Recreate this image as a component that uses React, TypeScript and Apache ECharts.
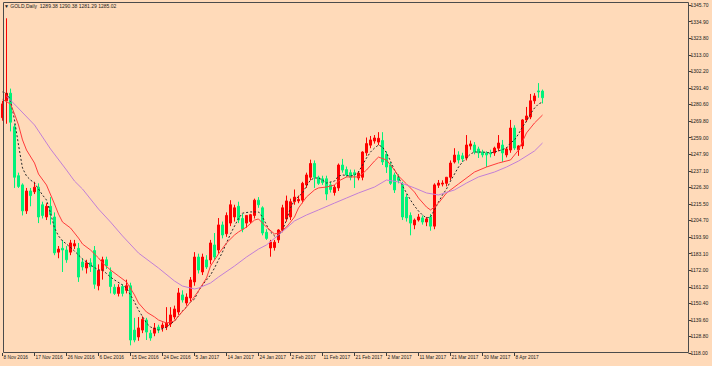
import React, { useEffect, useRef } from "react";
import * as echarts from "echarts";

// ---- categories (trading days, Mon-Sat server calendar) ----
const MONTH_DAYS: [string, number[]][] = [
  ["Nov 2016", [8, 9, 10, 11, 12, 14, 15, 16, 17, 18, 19, 21, 22, 23, 24, 25, 26, 28, 29, 30]],
  ["Dec 2016", [1, 2, 3, 5, 6, 7, 8, 9, 10, 12, 13, 14, 15, 16, 17, 19, 20, 21, 22, 23, 24, 27, 28, 29, 30, 31]],
  ["Jan 2017", [3, 4, 5, 6, 7, 9, 10, 11, 12, 13, 14, 16, 17, 18, 19, 20, 21, 23, 24, 25, 26, 27, 28, 30, 31]],
  ["Feb 2017", [1, 2, 3, 4, 6, 7, 8, 9, 10, 11, 13, 14, 15, 16, 17, 18, 20, 21, 22, 23, 24, 25, 27, 28]],
  ["Mar 2017", [1, 2, 3, 4, 6, 7, 8, 9, 10, 11, 13, 14, 15, 16, 17, 18, 20, 21, 22, 23, 24, 25, 27, 28, 29, 30, 31]],
  ["Apr 2017", [1, 3, 4, 5, 6, 7, 8, 10, 11, 12, 13, 14, 15, 17]],
];
const DATES: string[] = MONTH_DAYS.flatMap(([m, days]) => days.map((d) => `${d} ${m}`));
const SLOTS = 172; // visible bar slots (chart shift to the right)
const CATEGORIES: string[] = [...DATES, ...new Array(SLOTS - DATES.length).fill("")];

// ---- candles [open, high, low, close] ----
const CANDLES: number[][] = [
  [1272, 1283, 1270, 1281], [1283, 1337, 1268, 1288], [1288, 1291, 1263, 1269], [1266, 1268, 1226, 1233],
  [1234, 1236, 1226, 1227], [1228, 1229, 1208, 1211], [1211, 1226, 1209, 1224], [1224, 1226, 1214, 1221],
  [1223.5, 1230, 1222, 1226.5], [1226.5, 1229, 1203, 1207], [1215, 1217, 1206, 1208], [1207, 1216, 1205, 1214],
  [1214, 1220, 1202, 1208.5], [1207, 1210, 1182, 1183.5], [1184, 1188, 1180, 1186], [1186.5, 1192, 1171, 1185.4],
  [1185.4, 1188, 1177, 1179], [1184, 1192, 1182, 1190], [1188, 1192, 1186, 1189.5], [1186.5, 1190, 1164.5, 1167.7],
  [1177.5, 1180, 1172, 1174.3], [1173.6, 1179, 1170, 1177], [1177, 1180, 1171, 1174.5], [1185, 1188, 1160, 1163],
  [1162, 1176, 1159, 1172], [1172, 1181, 1166, 1179], [1179, 1181, 1173, 1175], [1171, 1174, 1157, 1161.5],
  [1161, 1163, 1156, 1157], [1157, 1163, 1155, 1161], [1161.5, 1163, 1155, 1157], [1159, 1166, 1157, 1162],
  [1162, 1164, 1123, 1126.5], [1133, 1141, 1125, 1126.5], [1128.5, 1141.5, 1126, 1134.4], [1133, 1142, 1131, 1140],
  [1139.6, 1141, 1126.5, 1131.7], [1131, 1133, 1126, 1127.8], [1131, 1137.6, 1129, 1134.4], [1135, 1136.5, 1131, 1133],
  [1134.4, 1138, 1132, 1136.3], [1135, 1148, 1133, 1137.6], [1137, 1148, 1135, 1142.9], [1141.6, 1149, 1140, 1146.8],
  [1144.8, 1160.5, 1143, 1157.3], [1156, 1159, 1151, 1152.7], [1150.7, 1157, 1149, 1154.6], [1154, 1167.7, 1152, 1165.8],
  [1164.5, 1184, 1162, 1180.8], [1180.8, 1183, 1170, 1172.3], [1171, 1183, 1169, 1180.8], [1178.9, 1182, 1173, 1174.3],
  [1178.9, 1192, 1176, 1190], [1188.7, 1196.5, 1179, 1180.8], [1185.4, 1206.3, 1183, 1201.8], [1201.8, 1204, 1193, 1195.2],
  [1196, 1210, 1194, 1208], [1203, 1218, 1201, 1215], [1207, 1215, 1204, 1213], [1214, 1217, 1203, 1205],
  [1206, 1209, 1197, 1199], [1203, 1208, 1200, 1208], [1204, 1209, 1203, 1208.5], [1208, 1219, 1206, 1218],
  [1218, 1220, 1213, 1215], [1213, 1214, 1195, 1196.5], [1197, 1199, 1192, 1193], [1186.7, 1192, 1181, 1190.6],
  [1187, 1192, 1185, 1190.5], [1192, 1199, 1190, 1198.5], [1198.5, 1215, 1197, 1213], [1205.7, 1221, 1204, 1217.5],
  [1207, 1219, 1205, 1217], [1217, 1225, 1215, 1220], [1217.5, 1221, 1216, 1218.5], [1218, 1230, 1216, 1229],
  [1228, 1236, 1226, 1234.5], [1233, 1244.5, 1231, 1242], [1242, 1244, 1226, 1233], [1233, 1234, 1228, 1229],
  [1232, 1234, 1228, 1229.5], [1232, 1234, 1218, 1222], [1228, 1230, 1223, 1225], [1223, 1228, 1221, 1226.5],
  [1226, 1242, 1224, 1241], [1241, 1245, 1236, 1237.7], [1238, 1240, 1233, 1234.5], [1236, 1238, 1231, 1233],
  [1236, 1238, 1226, 1234.5], [1232.5, 1237, 1231, 1235.7], [1233, 1250, 1231, 1249.5], [1249, 1259, 1247, 1255],
  [1254, 1260, 1252, 1257.4], [1256.7, 1260.6, 1255, 1258.7], [1256, 1262.5, 1254, 1258.5], [1257, 1262.5, 1241, 1243],
  [1248, 1250, 1235.8, 1239.7], [1241, 1243, 1228, 1229], [1234.5, 1236, 1222.7, 1224.7], [1233, 1235, 1229, 1231],
  [1228, 1230, 1205, 1207], [1220, 1222, 1204, 1206.4], [1208, 1210, 1195, 1203], [1201.8, 1206, 1199, 1205],
  [1205, 1209, 1204, 1207], [1206.4, 1208, 1202, 1203.7], [1203.7, 1207, 1201, 1205.7], [1207, 1209, 1198, 1201],
  [1201, 1229, 1199, 1228], [1227.8, 1231.2, 1226, 1229.2], [1228.5, 1231, 1227, 1229.2], [1229, 1233, 1227, 1233],
  [1233, 1244, 1231, 1242.3], [1243, 1252, 1242, 1247.5], [1247.6, 1250, 1242, 1244.3], [1247, 1249, 1243, 1245],
  [1245.6, 1260.6, 1244, 1254.1], [1253.4, 1257, 1251, 1254.8], [1254.1, 1256, 1248, 1249.5], [1251.5, 1253, 1245.6, 1248.9],
  [1249.5, 1251, 1246, 1247.6], [1248.9, 1250, 1239.7, 1247.6], [1248.9, 1251, 1246, 1248.2], [1248.9, 1253, 1247, 1252.1],
  [1252, 1260.6, 1250, 1255.4], [1254.1, 1257.4, 1243, 1248.9], [1247.6, 1252.8, 1246, 1251.5], [1250.8, 1270.5, 1249, 1265.2],
  [1265.2, 1267, 1250.8, 1252.1], [1251, 1254, 1247, 1253.5], [1253.5, 1271, 1251.5, 1270.5], [1270.5, 1279, 1269, 1273.1],
  [1272.4, 1287.5, 1271, 1283], [1283, 1288, 1281, 1286.2], [1289.5, 1294.6, 1285, 1288.8], [1289.38, 1290.38, 1281.29, 1285.02],
];

// ---- moving averages: [bar index, price] ----
const MA_FAST: number[][] = [
  [0, 1288.8], [1, 1288.1], [2, 1283.5], [3, 1270.5], [4, 1254.1], [5, 1239.0], [6, 1233.8], [7, 1231.2], [8, 1229.2],
  [10, 1221.4], [11, 1218.1], [12, 1209.6], [13, 1199.8], [14, 1194.6], [15, 1191.3], [16, 1189.3], [18, 1184.7],
  [19, 1182.1], [20, 1179.5], [22, 1175.6], [24, 1172.3], [25, 1172.3], [27, 1167.7], [28, 1165.8], [30, 1162.5],
  [31, 1160.5], [33, 1151.4], [34, 1146.1], [36, 1137.6], [37, 1135.0], [39, 1133.0], [41, 1135.0], [42, 1137.0],
  [43, 1138.9], [44, 1142.2], [45, 1145.5], [46, 1148.1], [47, 1151.4], [48, 1153.3], [49, 1158.6], [50, 1162.5],
  [51, 1165.8], [52, 1169.0], [53, 1173.6], [54, 1178.9], [55, 1184.1], [56, 1190.0], [57, 1195.9], [58, 1201.0],
  [59, 1206.0], [60, 1209.5], [62, 1210.3], [64, 1210.3], [65, 1207.0], [66, 1201.8], [67, 1197.2], [68, 1194.6],
  [69, 1194.6], [70, 1198.5], [71, 1205.0], [72, 1212.9], [73, 1218.1], [75, 1222.7], [76, 1227.3], [77, 1231.2],
  [78, 1232.5], [79, 1232.5], [80, 1231.2], [81, 1229.2], [83, 1230.5], [84, 1233.8], [85, 1234.5], [87, 1233.8],
  [88, 1234.5], [89, 1236.4], [90, 1241.0], [91, 1245.6], [92, 1249.5], [93, 1252.1], [94, 1254.1], [95, 1252.8],
  [96, 1248.9], [97, 1243.6], [98, 1237.7], [99, 1233.2], [100, 1227.3], [101, 1222.7], [102, 1218.1], [103, 1214.2],
  [104, 1210.9], [105, 1208.3], [106, 1206.3], [107, 1207.0], [108, 1211.6], [109, 1216.8], [110, 1221.4], [111, 1225.3],
  [112, 1230.5], [113, 1235.1], [114, 1239.7], [115, 1243.0], [116, 1245.6], [117, 1248.2], [118, 1249.5], [120, 1249.5],
  [122, 1248.9], [124, 1250.2], [126, 1252.1], [127, 1255.4], [128, 1257.4], [129, 1261.3], [130, 1265.9], [131, 1269.8],
  [132, 1274.4], [133, 1278.3], [134, 1280.9], [135, 1282.2],
];
const MA_MID: number[][] = [
  [0, 1284.0], [2, 1280.9], [3, 1274.4], [4, 1267.2], [5, 1257.4], [6, 1250.8], [8, 1242.3], [9, 1235.1], [11, 1227.9],
  [13, 1215.5], [14, 1208.9], [15, 1203.7], [17, 1199.8], [19, 1193.2], [20, 1189.3], [22, 1185.4], [24, 1180.2],
  [25, 1176.9], [27, 1172.3], [29, 1168.4], [31, 1164.5], [33, 1156.0], [34, 1150.7], [36, 1144.8], [38, 1141.6],
  [39, 1139.6], [41, 1137.6], [43, 1138.9], [44, 1142.2], [46, 1148.1], [47, 1151.4], [49, 1158.6], [51, 1167.1],
  [52, 1174.9], [54, 1182.8], [56, 1190.0], [58, 1195.2], [59, 1197.2], [61, 1200.4], [63, 1205.0], [64, 1205.7],
  [66, 1200.4], [68, 1195.9], [69, 1196.5], [71, 1200.4], [73, 1207.0], [74, 1212.9], [76, 1220.1], [78, 1224.7],
  [79, 1226.0], [81, 1226.6], [83, 1227.9], [84, 1230.5], [86, 1233.2], [88, 1233.2], [89, 1233.2], [91, 1237.7],
  [93, 1243.6], [94, 1246.2], [96, 1244.3], [98, 1237.7], [99, 1233.8], [101, 1228.6], [103, 1223.3], [104, 1219.4],
  [106, 1213.5], [107, 1211.6], [108, 1213.5], [109, 1216.1], [111, 1222.7], [114, 1228.6], [118, 1236.4], [121, 1239.7],
  [124, 1242.3], [127, 1244.3], [129, 1250.8], [131, 1262.0], [133, 1268.5], [135, 1273.7],
];
const MA_SLOW: number[][] = [
  [1, 1286.0], [2, 1283.5], [8, 1267.2], [12, 1251.5], [16, 1237.7], [18, 1230.5], [20, 1225.3], [24, 1212.2],
  [27, 1203.7], [30, 1194.6], [34, 1183.4], [39, 1173.6], [43, 1165.1], [45, 1161.8], [48, 1159.9], [49, 1160.5],
  [52, 1163.8], [54, 1167.7], [58, 1174.9], [61, 1180.8], [64, 1186.0], [66, 1188.7], [69, 1195.2], [73, 1204.4],
  [76, 1208.3], [79, 1211.6], [83, 1216.1], [86, 1219.4], [89, 1222.7], [93, 1226.6], [96, 1231.2], [99, 1229.9],
  [103, 1226.0], [106, 1222.7], [109, 1221.4], [113, 1224.7], [116, 1229.2], [119, 1233.2], [123, 1236.4],
  [126, 1239.7], [129, 1243.6], [133, 1250.2], [135, 1255.4],
];

// ---- price scale ----
const Y_MIN = 1118.0;
const Y_MAX = 1345.7;
const Y_TICKS = [
  1118.0, 1128.8, 1139.6, 1150.4, 1161.2, 1172.0, 1183.1, 1193.9, 1204.7, 1215.5, 1226.3,
  1237.1, 1247.9, 1259.0, 1269.8, 1280.6, 1291.4, 1302.2, 1313.0, 1323.8, 1334.9, 1345.7,
];
const SYMBOL = "GOLD,Daily";

const FONT = "'Liberation Sans', 'DejaVu Sans', sans-serif";
const BG = "#ffdab9";
const UP = "#ff0000";
const DOWN = "#00f27a";

export default function App() {
  const ref = useRef<HTMLDivElement>(null);

  useEffect(() => {
    document.body.style.margin = "0";
    if (!ref.current) return;
    const chart = echarts.init(ref.current, undefined, { renderer: "svg" });
    const last = CANDLES[CANDLES.length - 1];
    const showIdx = (i: number) => i % 8 === 0 && i < DATES.length;

    chart.setOption({
      animation: false,
      backgroundColor: BG,
      grid: { left: 0.5, width: 688, top: 5, height: 348, containLabel: false },
      xAxis: {
        type: "category",
        data: CATEGORIES,
        boundaryGap: true,
        axisLine: { show: false },
        splitLine: { show: false },
        axisTick: {
          show: true,
          alignWithLabel: true,
          interval: (i: number) => showIdx(i),
          length: 3,
          lineStyle: { color: "#3c3c3c", width: 1 },
        },
        axisLabel: {
          interval: (i: number) => showIdx(i),
          align: "left",
          fontSize: 4.8,
          fontFamily: FONT,
          color: "#1a1a1a",
          margin: 2,
          padding: [0, 0, 0, 1],
        },
      },
      yAxis: {
        type: "value",
        position: "right",
        min: Y_MIN,
        max: Y_MAX,
        axisLine: { show: false },
        splitLine: { show: false },
        axisTick: { show: true, customValues: Y_TICKS, length: 3, lineStyle: { color: "#3c3c3c" } },
        axisLabel: {
          customValues: Y_TICKS,
          formatter: (v: number) => v.toFixed(2),
          fontSize: 5,
          fontFamily: FONT,
          color: "#1a1a1a",
          margin: 2,
          showMinLabel: true,
          showMaxLabel: true,
        },
      },
      series: [
        {
          type: "candlestick",
          data: CANDLES.map(([o, h, l, c]) => [o, c, l, h]),
          barWidth: 3,
          itemStyle: { color: UP, color0: DOWN, borderColor: UP, borderColor0: DOWN, borderWidth: 1 },
          markLine: {
            silent: true,
            symbol: ["none", "none"],
            lineStyle: { opacity: 0 },
            data: [{ yAxis: last[3] }],
            label: {
              show: true,
              position: "end",
              distance: 1,
              formatter: last[3].toFixed(2),
              backgroundColor: "#000",
              color: "#fff",
              fontSize: 5,
              fontFamily: FONT,
              padding: [1, 2, 1, 2],
            },
          },
        },
        {
          type: "line",
          data: MA_FAST,
          symbol: "none",
          silent: true,
          z: 4,
          lineStyle: { color: "#2a2a2a", width: 1, type: [2, 2] },
        },
        {
          type: "line",
          data: MA_MID,
          symbol: "none",
          silent: true,
          z: 4,
          lineStyle: { color: "#ff3b3b", width: 1 },
        },
        {
          type: "line",
          data: MA_SLOW,
          symbol: "none",
          silent: true,
          z: 4,
          lineStyle: { color: "#c27fd6", width: 1 },
        },
      ],
      graphic: [
        {
          type: "rect",
          z: 100,
          silent: true,
          shape: { x: 3.5, y: 2.5, width: 685, height: 350 },
          style: { fill: "none", stroke: "#4b4b4b", lineWidth: 1 },
        },
        {
          type: "text",
          z: 101,
          left: 4,
          top: 3,
          style: {
            text: `▼ ${SYMBOL}  ${last.map((v) => v.toFixed(2)).join(" ")}`,
            fontSize: 5,
            fontFamily: FONT,
            fill: "#1a1a1a",
          },
        },
      ],
    });
    return () => chart.dispose();
  }, []);

  return (
    <div
      ref={ref}
      style={{ position: "fixed", left: 0, top: 0, width: 712, height: 366, background: BG }}
    />
  );
}
